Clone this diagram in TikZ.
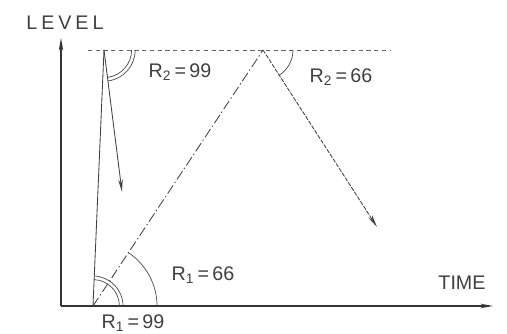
\documentclass[tikz,border=0pt]{standalone}
\usepackage{fontspec}
\setmainfont{Liberation Sans}
\usetikzlibrary{arrows.meta}
\usetikzlibrary{calc}

\begin{document}
\begin{tikzpicture}[
  x=0.025cm, y=0.025cm,
  every node/.style={font=\fontsize{14}{16}\selectfont, text=black!75, inner sep=1pt},
  ray/.style={line width=0.6pt, draw=black!75},
  angarc/.style={line width=0.5pt, draw=black!70},
]
\tikzset{>={Stealth[length=9pt, width=3.2pt]}}
\useasboundingbox (0,0) rectangle (507,334);

  % Points
  \coordinate (o)  at (61, 28);
  \coordinate (yt) at (61, 296);
  \coordinate (xt) at (493, 28);
  \coordinate (s)  at (93, 28);
  \coordinate (a1) at (104, 284);
  \coordinate (e1) at (122, 142);
  \coordinate (a2) at (263, 284);
  \coordinate (e2) at (377, 107);
  \coordinate (d1) at (88, 284);
  \coordinate (d2) at (390, 284);

  % Labels
  \node (level) at (65, 311) {\addfontfeature{LetterSpace=20}LEVEL};
  \node (time)  at (462, 51) {TIME};
  \node (r299)  at (180, 262) {R\textsubscript{2}\,=\,99};
  \node (r266)  at (341, 257) {R\textsubscript{2}\,=\,66};
  \node (r166)  at (203, 59)  {R\textsubscript{1}\,=\,66};
  \node (r199)  at (133, 11)  {R\textsubscript{1}\,=\,99};

  % Axes
  \draw[->, line width=0.9pt, black!80] (o) -- (yt);
  \draw[->, line width=0.9pt, black!80] (o) -- (xt);
  \draw[black!60, line width=0.5pt, dash pattern=on 3pt off 2.5pt] (d1) -- (d2);

  % Rays
  \draw[ray] (s) -- (a1);
  \draw[ray, ->] (a1) -- (e1);
  \draw[ray, dash pattern=on 7pt off 2pt on 1pt off 2pt] (s) -- (a2);
  \draw[ray, ->, dash pattern=on 3pt off 1pt] (a2) -- (e2);

  % Angles
  \draw[angarc] ([shift={(0:1.6cm)}]s) arc[start angle=0, end angle=56.4, radius=1.6cm];
  \draw[angarc] ([shift={(0:0.75cm)}]s) arc[start angle=0, end angle=87.5, radius=0.75cm];
  \draw[angarc] ([shift={(0:0.66cm)}]s) arc[start angle=0, end angle=87.5, radius=0.66cm];
  \draw[angarc] ([shift={(0:0.78cm)}]a1) arc[start angle=0, end angle=-82.8, radius=0.78cm];
  \draw[angarc] ([shift={(0:0.69cm)}]a1) arc[start angle=0, end angle=-82.8, radius=0.69cm];
  \draw[angarc] ([shift={(0:0.75cm)}]a2) arc[start angle=0, end angle=-57.2, radius=0.75cm];

\end{tikzpicture}
\end{document}
